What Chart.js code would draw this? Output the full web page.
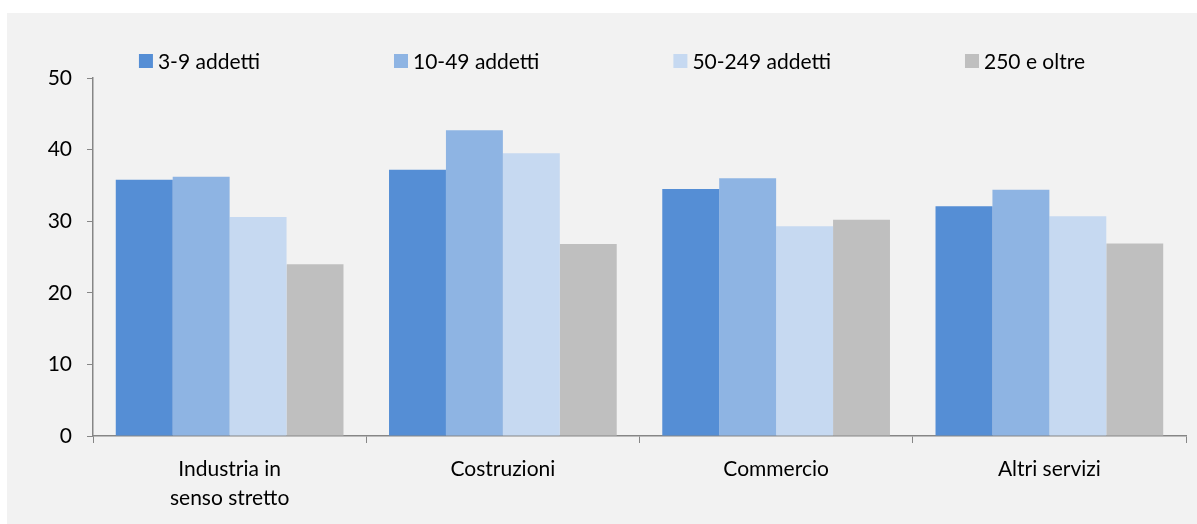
<!DOCTYPE html>
<html>
<head>
<meta charset="utf-8">
<script src="https://cdn.jsdelivr.net/npm/chart.js@4.4.1/dist/chart.umd.min.js"></script>
<style>
  html, body { margin: 0; padding: 0; background: #ffffff; }
  #panel { position: absolute; left: 7px; top: 13px; width: 1190px; height: 511px; background: #f2f2f2; }
  canvas { display: block; }
</style>
</head>
<body>
<div id="panel"><canvas id="c" width="1190" height="511"></canvas></div>
<script>
const categories = [["Industria in", "senso stretto"], "Costruzioni", "Commercio", "Altri servizi"];
const seriesLabels = ["3-9 addetti", "10-49 addetti", "50-249 addetti", "250 e oltre"];
const s3_9 = [35.8, 37.2, 34.5, 32.1];
const s10_49 = [36.2, 42.7, 36.0, 34.4];
const s50_249 = [30.6, 39.5, 29.3, 30.7];
const s250 = [24.0, 26.8, 30.2, 26.9];
const seriesColors = ["#558ed5", "#8eb4e3", "#c6d9f1", "#bfbfbf"];
const yTicks = [0, 10, 20, 30, 40, 50];

const FONT = "Lato";
const FSIZE = 21;

const legendPlugin = {
  id: "customLegend",
  afterDraw(chart) {
    const ctx = chart.ctx;
    ctx.save();
    ctx.font = FSIZE + "px " + FONT;
    ctx.textBaseline = "middle";
    ctx.textAlign = "left";
    const box = 14, boxGap = 5, gap = 134;
    const items = chart.data.datasets.map(d => ({ text: d.label, color: d.backgroundColor, w: ctx.measureText(d.label).width }));
    let total = 0;
    items.forEach((it, i) => { total += box + boxGap + it.w + (i < items.length - 1 ? gap : 0); });
    let x = 605 - total / 2;
    const cy = 48;
    items.forEach(it => {
      ctx.fillStyle = it.color;
      ctx.fillRect(x, cy - box / 2, box, box);
      ctx.fillStyle = "#000000";
      ctx.fillText(it.text, x + box + boxGap, cy + 1);
      x += box + boxGap + it.w + gap;
    });
    ctx.restore();
  }
};

const datasets = [s3_9, s10_49, s50_249, s250].map((vals, i) => ({
  label: seriesLabels[i],
  data: vals,
  backgroundColor: seriesColors[i],
  borderWidth: 0,
  categoryPercentage: 4 / 4.8,
  barPercentage: 1.0
}));

new Chart(document.getElementById("c"), {
  type: "bar",
  data: { labels: categories, datasets },
  options: {
    responsive: false,
    animation: false,
    devicePixelRatio: 1,
    layout: { padding: { left: 0, right: 11, top: 65, bottom: 0 } },
    plugins: { legend: { display: false }, tooltip: { enabled: false } },
    scales: {
      x: {
        afterFit(scale) { scale.height = 88; },
        grid: { display: true, drawOnChartArea: false, drawTicks: true, tickLength: 7, color: "#868686", offset: true },
        border: { display: true, color: "#868686", width: 1.5 },
        ticks: { color: "#000000", font: { family: FONT, size: FSIZE, lineHeight: 1.38 }, padding: 12, maxRotation: 0 }
      },
      y: {
        min: 0, max: 50,
        afterFit(scale) { scale.width = 86; },
        afterBuildTicks(scale) { scale.ticks = yTicks.map(v => ({ value: v })); },
        grid: { display: true, drawOnChartArea: false, drawTicks: true, tickLength: 6, color: "#868686" },
        border: { display: true, color: "#868686", width: 1.5 },
        ticks: { color: "#000000", font: { family: FONT, size: FSIZE }, padding: 15 }
      }
    }
  },
  plugins: [legendPlugin]
});
</script>
</body>
</html>
